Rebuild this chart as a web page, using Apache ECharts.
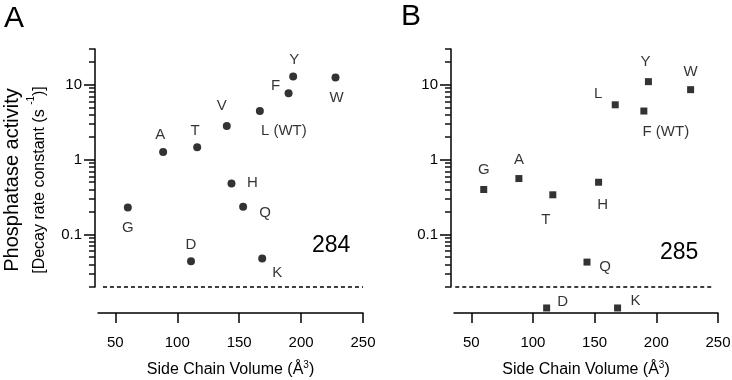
<!DOCTYPE html>
<html>
<head>
<meta charset="utf-8">
<script src="https://cdn.jsdelivr.net/npm/echarts@6/dist/echarts.min.js"></script>
<style>
  html, body { margin: 0; padding: 0; background: #fff; }
  #chart { width: 732px; height: 380px; }
</style>
</head>
<body>
<div id="chart"></div>
<script>
// panel A: residue 284
var namesA = ['G', 'A', 'T', 'V', 'H', 'Q', 'D', 'K', 'L (WT)', 'F', 'Y', 'W'];
var volA   = [60.1, 88.6, 116.1, 140.0, 143.8, 153.2, 111.1, 168.6, 166.7, 189.9, 193.6, 227.8];
var rateA  = [0.23, 1.27, 1.47, 2.81, 0.48, 0.236, 0.044, 0.048, 4.46, 7.7, 12.9, 12.5];

// panel B: residue 285
var namesB = ['G', 'A', 'T', 'H', 'Q', 'D', 'K', 'L', 'F (WT)', 'Y', 'W'];
var volB   = [60.1, 88.6, 116.1, 153.2, 143.8, 111.1, 168.6, 166.7, 189.9, 193.6, 227.8];
var rateB  = [0.40, 0.56, 0.34, 0.50, 0.043, 0.0105, 0.0105, 5.4, 4.46, 11.0, 8.6];

var xTicks = [50, 100, 150, 200, 250];
var yMajor = [0.1, 1, 10];
var yMinor = [0.02, 0.03, 0.04, 0.05, 0.06, 0.07, 0.08, 0.09,
              0.2, 0.3, 0.4, 0.5, 0.6, 0.7, 0.8, 0.9,
              2, 3, 4, 5, 6, 7, 8, 9, 20, 30];
var detectLimit = 0.02;
var limitSpanA = [40, 250];
var limitSpanB = [37, 246];

// label offsets (px) around each point
var offA = {
    'G': [0, 20], 'A': [-3, -17], 'T': [-2, -16], 'V': [-5, -20], 'H': [21, -1], 'Q': [22, 6],
    'D': [0, -16], 'K': [15, 14], 'L (WT)': [24, 20], 'F': [-13, -7], 'Y': [1, -17], 'W': [1, 20]
};
var offB = {
    'G': [0, -20], 'A': [0, -19], 'T': [-7, 25], 'H': [4, 23], 'Q': [18, 5], 'D': [16, -6],
    'K': [18, -7], 'L': [-17, -11], 'F (WT)': [22, 21], 'Y': [-3, -20], 'W': [0, -18]
};

var FONT = '"Liberation Sans", Arial, sans-serif';
var BLACK = '#000';
var TICK = '#111';

function points(names, vols, rates, offs) {
    return names.map(function (n, i) {
        return {
            value: [vols[i], rates[i]],
            label: { offset: offs[n], formatter: n }
        };
    });
}

function xAxisFor(grid) {
    return {
        type: 'value', gridIndex: grid, min: 36, max: 250, offset: 26,
        axisLine: { lineStyle: { color: BLACK, width: 1.5 } },
        axisTick: { show: true, customValues: xTicks, length: 10, lineStyle: { color: BLACK, width: 1.5 } },
        axisLabel: { customValues: xTicks, color: BLACK, fontSize: 15, fontFamily: FONT, margin: 22 },
        splitLine: { show: false },
        name: '{t|Side Chain Volume (Å}{s|3}{t|)}',
        nameLocation: 'middle', nameGap: 47,
        nameTextStyle: {
            rich: {
                t: { fontSize: 16, fontFamily: FONT, color: BLACK, lineHeight: 20 },
                s: { fontSize: 10, fontFamily: FONT, color: BLACK, verticalAlign: 'top', lineHeight: 20 }
            }
        }
    };
}

var yTitle = {
    name: '{a|Phosphatase activity}\n{b|[Decay rate constant (s }{s|-1}{b|)]}',
    nameLocation: 'middle', nameRotate: 90, nameGap: 42,
    nameTextStyle: {
        padding: [0, 24, 0, 0],
        rich: {
            a: { fontSize: 20, fontFamily: FONT, color: BLACK, lineHeight: 27 },
            b: { fontSize: 16, fontFamily: FONT, color: BLACK, lineHeight: 27 },
            s: { fontSize: 10, fontFamily: FONT, color: BLACK, verticalAlign: 'top', lineHeight: 20 }
        }
    }
};

// two log axes per panel: long decade ticks with labels, and short sub-decade ticks
function yAxesFor(grid, withTitle) {
    var major = {
        type: 'log', logBase: 10, gridIndex: grid, min: 0.02, max: 30, offset: 3, position: 'left',
        axisLine: { show: true, lineStyle: { color: BLACK, width: 1.5 } },
        axisTick: { show: true, customValues: yMajor, length: 11, lineStyle: { color: BLACK, width: 1.5 } },
        axisLabel: { customValues: yMajor, color: BLACK, fontSize: 15, fontFamily: FONT, margin: 13 },
        splitLine: { show: false }
    };
    if (withTitle) {
        Object.assign(major, yTitle);
    }
    var minor = {
        type: 'log', logBase: 10, gridIndex: grid, min: 0.02, max: 30, offset: 3, position: 'left',
        axisLine: { show: false },
        axisTick: { show: true, customValues: yMinor, length: 6, lineStyle: { color: TICK, width: 1.5 } },
        axisLabel: { show: false },
        splitLine: { show: false }
    };
    return [major, minor];
}

function limitLine(span) {
    return {
        silent: true, symbol: 'none', animation: false,
        label: { show: false },
        lineStyle: { color: BLACK, width: 1.5, type: [4, 3] },
        data: [[{ coord: [span[0], detectLimit] }, { coord: [span[1], detectLimit] }]]
    };
}

function textBox(text, left, top, size) {
    return {
        text: text, left: left, top: top, padding: 0,
        textStyle: { fontSize: size, fontWeight: 'normal', fontFamily: FONT, color: BLACK }
    };
}

var labelStyle = { show: true, position: 'inside', color: BLACK, fontSize: 15, fontFamily: FONT };

var chart = echarts.init(document.getElementById('chart'));
var option = {
    backgroundColor: '#fff',
    animation: false,
    title: [
        textBox('A', 4, 4, 30),
        textBox('B', 401, 2, 30),
        textBox('284', 312, 234, 23),
        textBox('285', 660, 241, 23)
    ],
    grid: [
        { left: 98, top: 49, width: 265, height: 238, outerBoundsMode: 'none' },
        { left: 454, top: 49, width: 264, height: 238, outerBoundsMode: 'none' }
    ],
    xAxis: [xAxisFor(0), xAxisFor(1)],
    yAxis: yAxesFor(0, true).concat(yAxesFor(1, false)),
    series: [
        {
            type: 'scatter', xAxisIndex: 0, yAxisIndex: 0, clip: false,
            symbol: 'circle', symbolSize: 8,
            itemStyle: { color: BLACK },
            label: labelStyle,
            data: points(namesA, volA, rateA, offA),
            markLine: limitLine(limitSpanA)
        },
        {
            type: 'scatter', xAxisIndex: 1, yAxisIndex: 2, clip: false,
            symbol: 'rect', symbolSize: 7,
            itemStyle: { color: BLACK },
            label: labelStyle,
            data: points(namesB, volB, rateB, offB),
            markLine: limitLine(limitSpanB)
        }
    ]
};
chart.setOption(option);
</script>
</body>
</html>
